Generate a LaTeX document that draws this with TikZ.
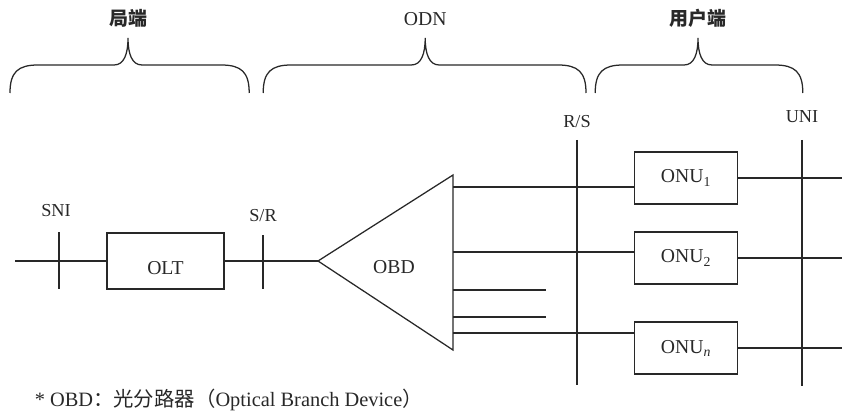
\documentclass[tikz,border=0pt]{standalone}
\usepackage{fontspec}
\setmainfont{Liberation Serif}
\newfontfamily\cjk{Noto Sans CJK SC}
\usetikzlibrary{calc}
\definecolor{figK}{RGB}{40,40,40}
\tikzset{wire/.style={line width=0.9pt, figK},
  unit/.style={draw, line width=0.9pt, figK, minimum width=2.575cm, minimum height=1.3cm, inner sep=0pt, font=\fontsize{14}{16}\selectfont},
  tag/.style={text=figK, inner sep=1pt, font=\fontsize{13}{15}\selectfont},
  zone/.style={text=figK, inner sep=1pt, font=\cjk\bfseries\fontsize{13.5}{16}\selectfont}}
% curly bracket: left end, tip, right end
\newcommand{\curly}[3]{\draw[wire] (#1,7.975) .. controls (#1,8.5) and (#1+0.2,8.675) .. (#1+0.7,8.675)
  -- (#2-0.35,8.675) .. controls (#2-0.1,8.675) and (#2,8.95) .. (#2,9.35)
  .. controls (#2,8.95) and (#2+0.1,8.675) .. (#2+0.35,8.675)
  -- (#3-0.7,8.675) .. controls (#3-0.2,8.675) and (#3,8.5) .. (#3,7.975);}
\begin{document}
\begin{tikzpicture}
\useasboundingbox (0,0) rectangle (21.05,10.3);
% brackets on top
\curly{0.25}{3.2}{6.23}
\curly{6.58}{10.63}{14.65}
\curly{14.88}{17.45}{20.07}
\node[zone] (ju) at (3.2,9.83) {局端};
\node[tag, font=\fontsize{14}{16}\selectfont] (odn) at (10.63,9.83) {ODN};
\node[zone] (yh) at (17.45,9.83) {用户端};
% central office side
\coordinate (in) at (0.375,3.775);
\node[unit, minimum width=2.925cm, minimum height=1.4cm, text height=0.68cm, text depth=0pt] (olt) at (4.1375,3.775) {OLT};
\draw[wire] (in) -- (olt.west);
\coordinate (sniT) at (1.475,4.5);
\coordinate (sniB) at (1.475,3.075);
\draw[wire] (sniT) -- (sniB);
\node[tag] (sni) at (1.4,5.03) {SNI};
\coordinate (srT) at (6.575,4.425);
\coordinate (srB) at (6.575,3.075);
\draw[wire] (srT) -- (srB);
\node[tag] (sr) at (6.575,4.9) {S/R};
% splitter
\coordinate (apex) at (7.95,3.775);
\coordinate (tp) at (11.325,5.925);
\coordinate (bt) at (11.325,1.55);
\draw[wire] (olt.east) -- (apex);
\draw[wire] (tp) -- (apex) -- (bt) -- cycle;
\node[tag, font=\fontsize{14}{16}\selectfont] (obd) at (9.85,3.62) {OBD};
% user side
\node[unit] (onu1) at (17.15,5.85) {ONU\textsubscript{1}};
\node[unit] (onu2) at (17.15,3.85) {ONU\textsubscript{2}};
\node[unit] (onun) at (17.15,1.6) {ONU\textsubscript{\itshape n}};
\coordinate (b1) at (11.325,5.625);
\coordinate (b2) at (11.325,4.0);
\coordinate (b3) at (11.325,3.05);
\coordinate (b4) at (11.325,2.375);
\coordinate (b5) at (11.325,1.975);
\coordinate (e3) at (13.65,3.05);
\coordinate (e4) at (13.65,2.375);
\coordinate (edge) at (21.05,0);
\draw[wire] (b1) -- (b1 -| onu1.west);
\draw[wire] (b2) -- (b2 -| onu2.west);
\draw[wire] (b3) -- (e3);
\draw[wire] (b4) -- (e4);
\draw[wire] (b5) -- (b5 -| onun.west);
\foreach \u in {onu1,onu2,onun}
  \draw[wire] (\u.east) -- (\u.east -| edge);
% reference points
\coordinate (rsT) at (14.425,6.8);
\coordinate (rsB) at (14.425,0.675);
\draw[wire] (rsT) -- (rsB);
\node[tag] (rs) at (14.425,7.25) {R/S};
\coordinate (uniT) at (20.05,6.8);
\coordinate (uniB) at (20.05,0.65);
\draw[wire] (uniT) -- (uniB);
\node[tag] (uni) at (20.05,7.375) {UNI};
% footnote
\node[tag, anchor=west, font=\fontsize{14.5}{16}\selectfont] (note) at (0.83,0.3) {* OBD{\cjk ：光分路器（}Optical Branch Device{\cjk ）}};
\end{tikzpicture}
\end{document}
